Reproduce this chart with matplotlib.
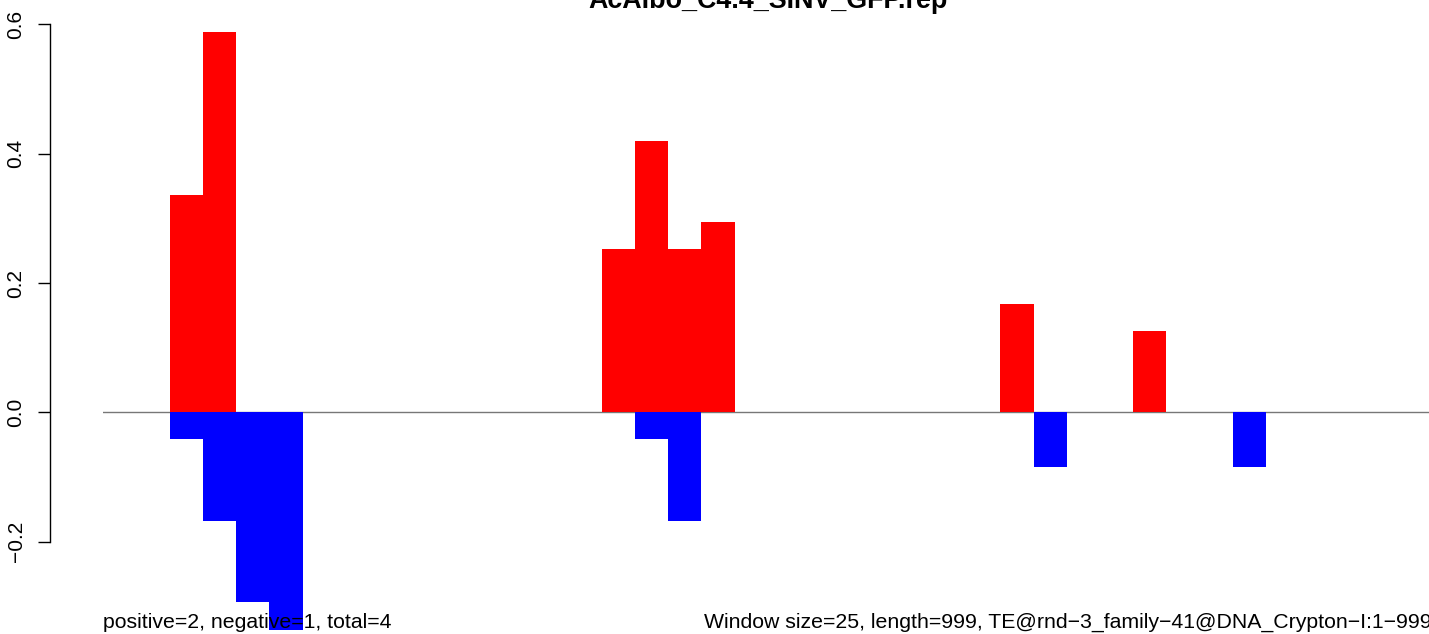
import matplotlib
matplotlib.use("Agg")
import matplotlib.pyplot as plt

plt.rcParams['font.family'] = ['Liberation Sans', 'DejaVu Sans']

title = "AcAlbo_C4.4_SINV_GFP.rep"
n_windows = 40  # length 999 / window 25

# window index -> value, positive strand (red) and negative strand (blue)
pos_idx = [2, 3, 15, 16, 17, 18, 27, 31]
pos_val = [0.336, 0.588, 0.252, 0.42, 0.252, 0.294, 0.168, 0.126]
neg_idx = [2, 3, 4, 5, 16, 17, 28, 34]
neg_val = [-0.042, -0.168, -0.294, -0.336, -0.042, -0.168, -0.084, -0.084]

yticks = [-0.2, 0.0, 0.2, 0.4, 0.6]
yticklabels = ["\u22120.2", "0.0", "0.2", "0.4", "0.6"]

left_note = "positive=2, negative=1, total=4"
right_note = "Window size=25, length=999, TE@rnd\u22123_family\u221241@DNA_Crypton\u2212I:1\u2212999"

W, H = 1429, 634
fig = plt.figure(figsize=(W / 100, H / 100), dpi=100)
ax = fig.add_axes([103.3 / W, 0, 1329 / W, 1])

ax.axhline(0, color="#777777", lw=1.0, zorder=1)
ax.bar(pos_idx, pos_val, width=1, align="edge", color="#FF0000", linewidth=0, zorder=2)
ax.bar(neg_idx, neg_val, width=1, align="edge", color="#0000FF", linewidth=0, zorder=2)

ax.set_xlim(0, n_windows)
ax.set_ylim(-(H - 412.3) / 646.5, 412.3 / 646.5)

for s in ["top", "right", "bottom"]:
    ax.spines[s].set_visible(False)
ax.spines["left"].set_position(("outward", 53.3 * 0.72))
ax.spines["left"].set_bounds(-0.2, 0.6)
ax.spines["left"].set_linewidth(1.0)
ax.set_xticks([])
ax.set_yticks(yticks)
ax.set_yticklabels(yticklabels, rotation=90, va="center", fontsize=15)
ax.tick_params(axis="y", length=8.6, width=1.0, pad=9)

fig.text(768 / W, 1 - 8 / H, title, ha="center", va="baseline",
         fontweight="bold", fontsize=19.4)
fig.text(103.3 / W, 1 - 628 / H, left_note, ha="left", va="baseline", fontsize=15.3)
fig.text(1432 / W, 1 - 628 / H, right_note, ha="right", va="baseline", fontsize=15.3)

fig.savefig("out.png", dpi=100)
